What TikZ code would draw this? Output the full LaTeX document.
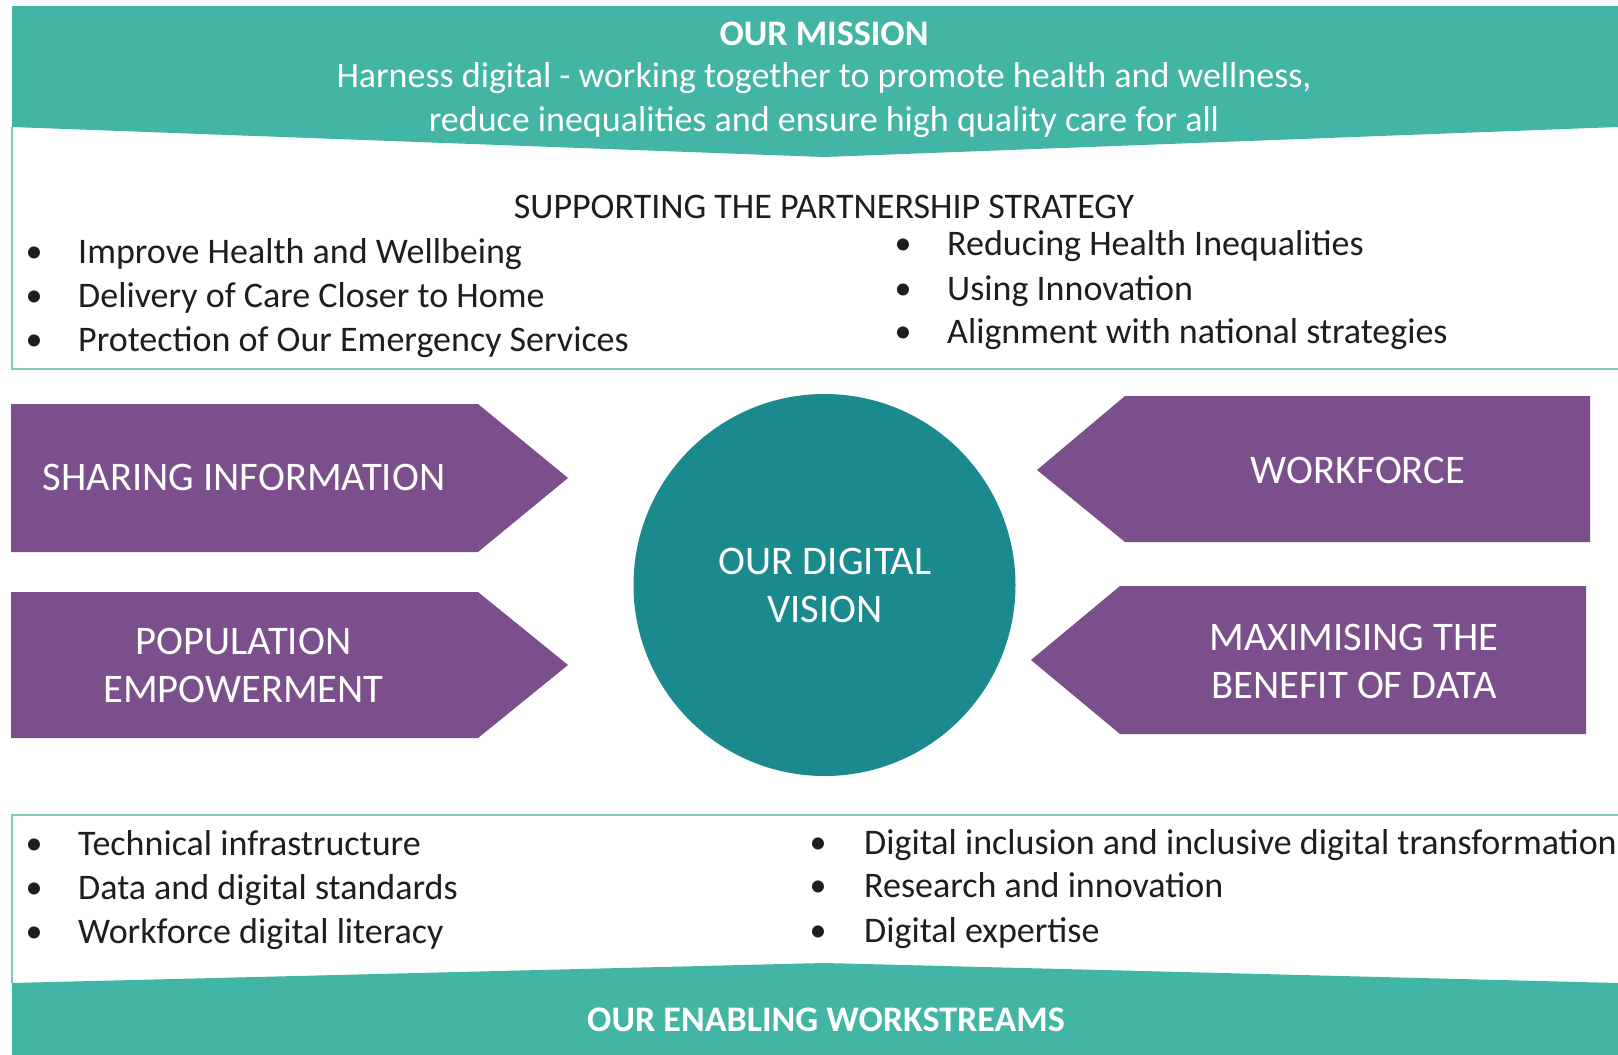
\documentclass[tikz,border=0pt]{standalone}
\usepackage{fontspec}
\setmainfont{Carlito}
\definecolor{bandteal}{HTML}{42B5A4}
\definecolor{circteal}{HTML}{1B8A8F}
\definecolor{arrowpurple}{HTML}{7B4F8B}
\definecolor{boxline}{HTML}{7DC9BC}
\definecolor{bodytext}{HTML}{1E1E1E}
\begin{document}
\begin{tikzpicture}[x=1pt,y=-1pt,
  band/.style={fill=bandteal,draw=none},
  frame/.style={draw=boxline,line width=2.2pt},
  chevron/.style={fill=arrowpurple,draw=none},
  hub/.style={fill=circteal,draw=none},
  bandtext/.style={text=white,font=\fontsize{36}{44}\selectfont,align=center,inner sep=0},
  bigtext/.style={text=white,font=\fontsize{40.6}{48.5}\selectfont,align=center,inner sep=0},
  item/.style={text=bodytext,font=\fontsize{36}{40}\selectfont,anchor=base west,inner sep=0},
  dot/.style={text=bodytext,font=\fontsize{34}{40}\selectfont,anchor=base,inner sep=0}]
\useasboundingbox[fill=white] (0,0) rectangle (1618,1055);
% top mission band
\fill[band] (12,6) -- (1618,6) -- (1618,127) -- (824,157) -- (12,127) -- cycle;
\draw[frame] (12,127) -- (12,369) -- (1618,369);
\node[bandtext,font=\bfseries\fontsize{36}{44}\selectfont] (mission) at (824,34) {OUR MISSION};
\node[bandtext] (missiontext) at (824,100.5) {Harness digital - working together to promote health and wellness,\\reduce inequalities and ensure high quality care for all};
% supporting strategy
\node[text=bodytext,font=\fontsize{36}{40}\selectfont,anchor=base,inner sep=0] (support) at (824,218) {SUPPORTING THE PARTNERSHIP STRATEGY};
\node[dot] (b1) at (34,262) {•};
\node[item] (t1) at (78,263) {Improve Health and Wellbeing};
\node[dot] (b2) at (34,306) {•};
\node[item] (t2) at (78,307) {Delivery of Care Closer to Home};
\node[dot] (b3) at (34,350) {•};
\node[item] (t3) at (78,351) {Protection of Our Emergency Services};
\node[dot] (b4) at (903,254) {•};
\node[item] (t4) at (947,255) {Reducing Health Inequalities};
\node[dot] (b5) at (903,299) {•};
\node[item] (t5) at (947,300) {Using Innovation};
\node[dot] (b6) at (903,342) {•};
\node[item] (t6) at (947,343) {Alignment with national strategies};
% purple chevrons
\fill[chevron] (11,404) -- (478,404) -- (568,478) -- (478,552) -- (11,552) -- cycle;
\node[bigtext] (sharing) at (244,477.5) {SHARING INFORMATION};
\fill[chevron] (11,592) -- (478,592) -- (568,665) -- (478,738) -- (11,738) -- cycle;
\node[bigtext] (population) at (243.5,665.5) {POPULATION\\EMPOWERMENT};
\fill[chevron] (1590,396) -- (1125,396) -- (1037,470) -- (1125,542) -- (1590,542) -- cycle;
\node[bigtext] (workforce) at (1358,470.5) {WORKFORCE};
\fill[chevron] (1586,586) -- (1120,586) -- (1031,660) -- (1120,734) -- (1586,734) -- cycle;
\node[bigtext] (maximising) at (1354,661.5) {MAXIMISING THE\\BENEFIT OF DATA};
% central circle
\fill[hub] (824.5,585) circle (191);
\node[bigtext] (vision) at (825,585.5) {OUR DIGITAL\\VISION};
% enabling workstreams
\draw[frame] (1618,815) -- (12,815) -- (12,983);
\node[dot] (e1) at (34,854) {•};
\node[item] (f1) at (78,855) {Technical infrastructure};
\node[dot] (e2) at (34,898) {•};
\node[item] (f2) at (78,899) {Data and digital standards};
\node[dot] (e3) at (34,942) {•};
\node[item] (f3) at (78,943) {Workforce digital literacy};
\node[dot] (e4) at (818,853) {•};
\node[item] (f4) at (864,854) {Digital inclusion and inclusive digital transformation};
\node[dot] (e5) at (818,896) {•};
\node[item] (f5) at (864,897) {Research and innovation};
\node[dot] (e6) at (818,941) {•};
\node[item] (f6) at (864,942) {Digital expertise};
\fill[band] (12,983) -- (824,963) -- (1618,983) -- (1618,1055) -- (12,1055) -- cycle;
\node[bandtext,font=\bfseries\fontsize{36}{44}\selectfont] (enabling) at (826,1020) {OUR ENABLING WORKSTREAMS};
\end{tikzpicture}
\end{document}
